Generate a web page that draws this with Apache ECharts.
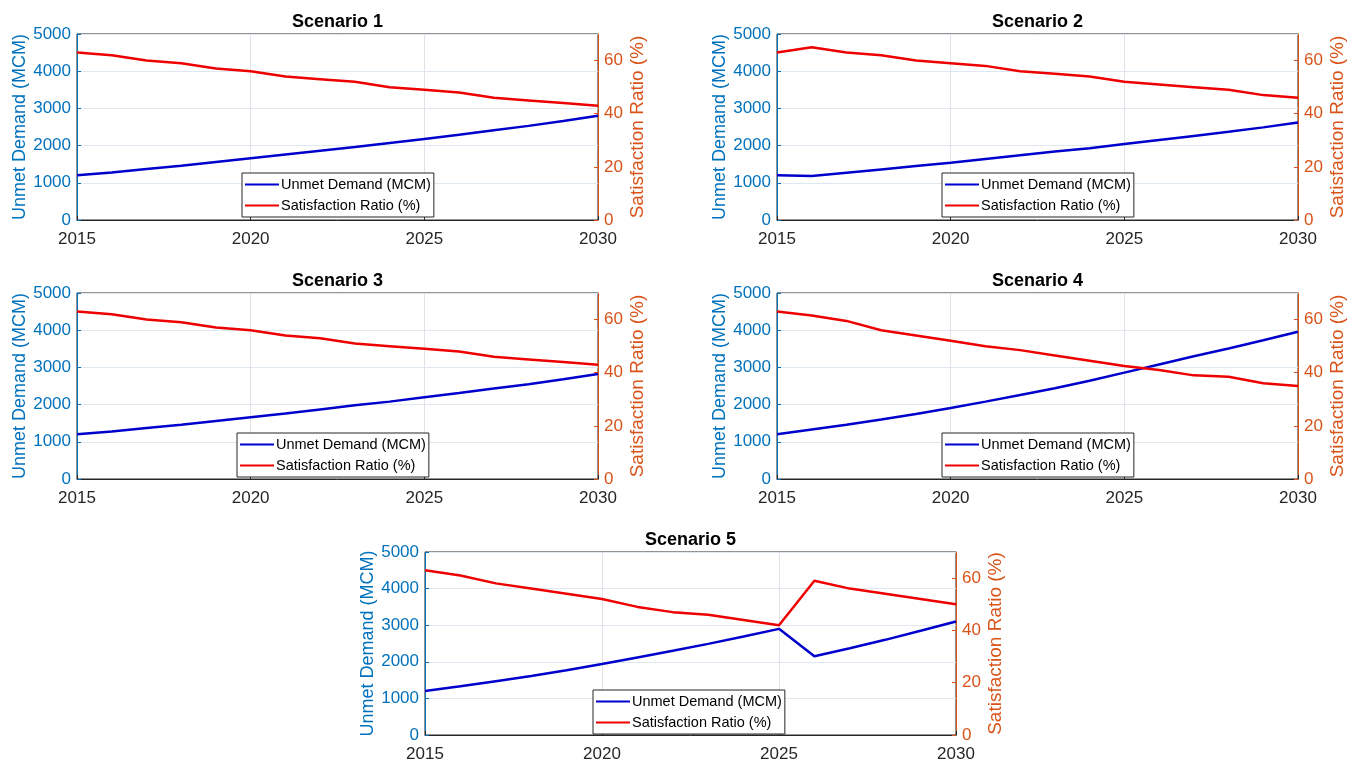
<!DOCTYPE html>
<html>
<head>
<meta charset="UTF-8">
<title>Scenarios</title>
<style>
  html, body { margin: 0; padding: 0; background: #fff; }
  #chart { width: 1359px; height: 767px; }
</style>
</head>
<body>
<div id="chart"></div>
<script src="https://cdn.jsdelivr.net/npm/echarts@6/dist/echarts.min.js"></script>
<script>
// years on the x axis
var years = [2015, 2016, 2017, 2018, 2019, 2020, 2021, 2022, 2023, 2024, 2025, 2026, 2027, 2028, 2029, 2030];
var titles = ['Scenario 1', 'Scenario 2', 'Scenario 3', 'Scenario 4', 'Scenario 5'];
var ratioTicks = [0, 20, 40, 60];

// unmet demand (MCM)
var unmet1 = [1200, 1280, 1370, 1460, 1560, 1660, 1760, 1860, 1960, 2070, 2180, 2290, 2410, 2530, 2660, 2800];
var unmet2 = [1200, 1180, 1270, 1360, 1450, 1540, 1640, 1740, 1840, 1930, 2040, 2150, 2260, 2370, 2490, 2620];
var unmet3 = [1200, 1280, 1370, 1460, 1560, 1660, 1760, 1870, 1980, 2080, 2200, 2310, 2430, 2550, 2680, 2820];
var unmet4 = [1200, 1330, 1460, 1600, 1750, 1910, 2080, 2260, 2440, 2640, 2860, 3080, 3300, 3510, 3730, 3960];
var unmet5 = [1200, 1330, 1470, 1610, 1770, 1940, 2120, 2300, 2490, 2690, 2900, 2150, 2370, 2600, 2850, 3100];

// satisfaction ratio (%)
var ratio1 = [63, 62, 60, 59, 57, 56, 54, 53, 52, 50, 49, 48, 46, 45, 44, 43];
var ratio2 = [63, 65, 63, 62, 60, 59, 58, 56, 55, 54, 52, 51, 50, 49, 47, 46];
var ratio3 = [63, 62, 60, 59, 57, 56, 54, 53, 51, 50, 49, 48, 46, 45, 44, 43];
var ratio4 = [63, 61.5, 59.5, 56, 54, 52, 50, 48.5, 46.5, 44.5, 42.5, 41, 39, 38.5, 36, 35];
var ratio5 = [63, 61, 58, 56, 54, 52, 49, 47, 46, 44, 42, 59, 56, 54, 52, 50];

var unmetAll = [unmet1, unmet2, unmet3, unmet4, unmet5];
var ratioAll = [ratio1, ratio2, ratio3, ratio4, ratio5];

// panel boxes [left, top, width, height] and legend spots [left, top]
var boxes = [[77, 34, 521, 186], [777, 34, 521, 186], [77, 293, 521, 186], [777, 293, 521, 186], [425, 552, 531, 183]];
var legendPos = [[242, 173], [942, 173], [237, 433], [942, 433], [593, 690]];

var font = 'Liberation Sans, Arial, sans-serif';
var blue = '#0072BD', orange = '#D95319';
var plain = function (v) { return String(v); };

var grid = [], xAxis = [], yAxis = [], series = [], title = [], legend = [];

for (var i = 0; i < 5; i++) {
  var b = boxes[i];
  grid.push({ left: b[0], top: b[1], width: b[2], height: b[3], show: true, borderColor: '#262626', borderWidth: 1 });
  title.push({
    text: titles[i], left: b[0] + b[2] / 2 - 5, top: b[1] - 26, textAlign: 'center',
    textStyle: { fontFamily: font, fontSize: 18, fontWeight: 'bold', color: '#000' }
  });
  xAxis.push({
    type: 'value', gridIndex: i, min: 2015, max: 2030, interval: 5,
    axisLine: { lineStyle: { color: '#262626' } },
    axisTick: { inside: true, length: 4, lineStyle: { color: '#262626' } },
    axisLabel: { fontFamily: font, fontSize: 17, color: '#262626', margin: 11, formatter: plain },
    splitLine: { show: true, lineStyle: { color: '#dfe3e8' } }
  });
  yAxis.push({
    type: 'value', gridIndex: i, min: 0, max: 5000, interval: 1000, position: 'left',
    name: 'Unmet Demand (MCM)', nameLocation: 'middle', nameGap: 45,
    nameTextStyle: { fontFamily: font, fontSize: 18, color: blue },
    axisLine: { show: true, lineStyle: { color: blue, width: 1 } },
    axisTick: { inside: true, length: 4, lineStyle: { color: blue } },
    axisLabel: { fontFamily: font, fontSize: 17, color: blue, margin: 6, formatter: plain },
    splitLine: { show: true, lineStyle: { color: '#dfe8f0' } }
  });
  yAxis.push({
    type: 'value', gridIndex: i, min: 0, max: 70, position: 'right',
    name: 'Satisfaction Ratio (%)', nameLocation: 'middle', nameGap: 30, nameRotate: 90,
    nameTextStyle: { fontFamily: font, fontSize: 19, color: orange },
    axisLine: { show: true, lineStyle: { color: orange, width: 1 } },
    axisTick: { inside: true, length: 4, lineStyle: { color: orange }, customValues: ratioTicks },
    axisLabel: { fontFamily: font, fontSize: 17, color: orange, margin: 6, customValues: ratioTicks },
    splitLine: { show: false }
  });
  series.push({
    name: 'Unmet Demand (MCM)', type: 'line', xAxisIndex: i, yAxisIndex: 2 * i,
    data: years.map(function (y, k) { return [y, unmetAll[i][k]]; }),
    symbol: 'none', lineStyle: { color: '#0000CC', width: 2.5 }, itemStyle: { color: '#0000CC' },
    z: 3
  });
  series.push({
    name: 'Satisfaction Ratio (%)', type: 'line', xAxisIndex: i, yAxisIndex: 2 * i + 1,
    data: years.map(function (y, k) { return [y, ratioAll[i][k]]; }),
    symbol: 'none', lineStyle: { color: '#EE0000', width: 2.5 }, itemStyle: { color: '#EE0000' },
    z: 3
  });
  legend.push({
    orient: 'vertical', left: legendPos[i][0], top: legendPos[i][1],
    data: ['Unmet Demand (MCM)', 'Satisfaction Ratio (%)'],
    backgroundColor: '#fff', borderColor: '#262626', borderWidth: 1, borderRadius: 0,
    padding: [4, 3, 4, 3], itemGap: 6, itemWidth: 34, itemHeight: 16,
    icon: 'path://M0,7 L34,7 L34,9 L0,9 Z',
    textStyle: { fontFamily: font, fontSize: 14.5, color: '#000', padding: [0, 0, 0, -3] },
    selectedMode: false, z: 10
  });
}

var myChart = echarts.init(document.getElementById('chart'));
myChart.setOption({
  animation: false,
  title: title,
  legend: legend,
  grid: grid,
  xAxis: xAxis,
  yAxis: yAxis,
  series: series
});
</script>
</body>
</html>
